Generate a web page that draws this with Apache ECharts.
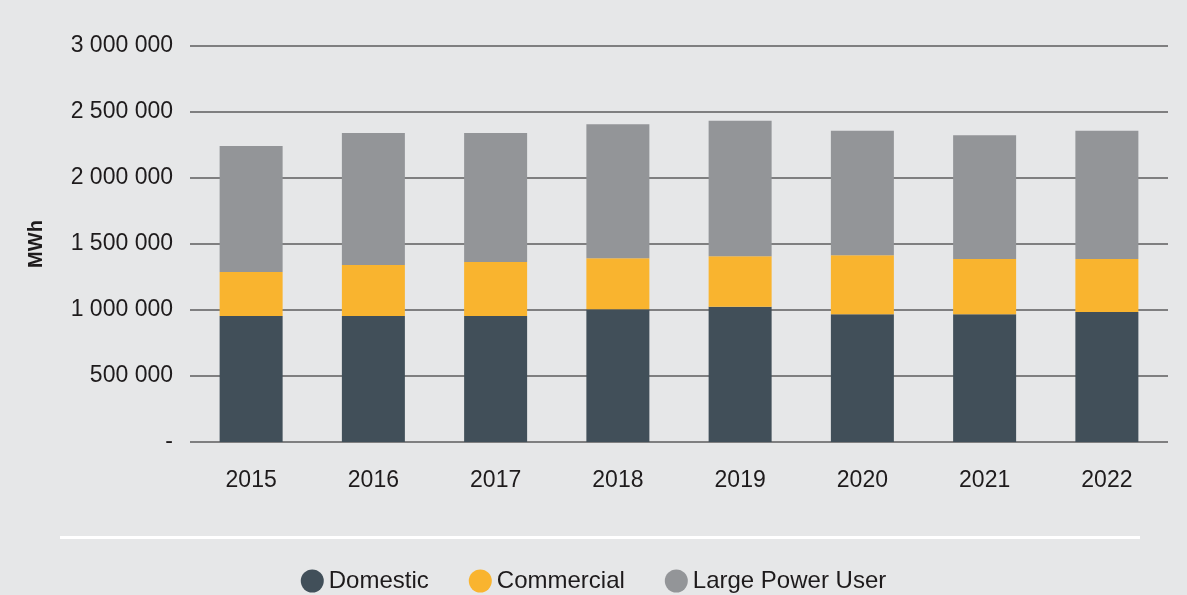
<!DOCTYPE html>
<html lang="en">

<head>
    <meta charset="UTF-8">
    <title>MWh by customer type</title>
    <script src="https://cdn.jsdelivr.net/npm/echarts@6/dist/echarts.min.js"></script>
    <style>
        html, body { margin: 0; padding: 0; background: #e6e7e8; }
        #main { width: 1187px; height: 595px; }
    </style>
</head>

<body>
    <div id="main"></div>
    <script>
        var years = ['2015', '2016', '2017', '2018', '2019', '2020', '2021', '2022'];
        var domestic = [955000, 955000, 955000, 1005000, 1025000, 967000, 967000, 985000];
        var commercial = [333000, 386000, 409000, 387000, 382000, 447000, 419000, 401000];
        var largePower = [954000, 1000000, 977000, 1015000, 1027000, 944000, 937000, 972000];
        var yTicks = [0, 500000, 1000000, 1500000, 2000000, 2500000, 3000000];

        var textColor = '#1e1b1c';
        var font = 'Liberation Sans, Arial, sans-serif';

        function fmt(v) {
            if (v === 0) return '-';
            return String(v).replace(/\B(?=(\d{3})+(?!\d))/g, ' ');
        }

        var mychart = echarts.init(document.getElementById('main'));

        var option = {
            backgroundColor: '#e6e7e8',
            animation: false,
            textStyle: { fontFamily: font, color: textColor },
            grid: { left: 190, right: 19, top: 46, bottom: 153 },
            legend: {
                data: ['Domestic', 'Commercial', 'Large Power User'],
                left: 'center',
                top: 564,
                icon: 'circle',
                itemWidth: 23,
                itemHeight: 23,
                itemGap: 40,
                textStyle: { fontSize: 24, color: textColor, fontFamily: font }
            },
            graphic: [{
                type: 'rect',
                shape: { x: 60, y: 536, width: 1080, height: 3 },
                style: { fill: '#ffffff' },
                silent: true
            }],
            xAxis: {
                type: 'category',
                data: years,
                axisLine: { show: false },
                axisTick: { show: false },
                axisLabel: { fontSize: 23, color: textColor, margin: 27 }
            },
            yAxis: {
                type: 'value',
                min: yTicks[0],
                max: yTicks[yTicks.length - 1],
                interval: 500000,
                name: 'MWh',
                nameLocation: 'middle',
                nameGap: 144,
                nameRotate: 90,
                nameTextStyle: { fontSize: 20, fontWeight: 'bold', color: textColor },
                axisLine: { show: false },
                axisTick: { show: false },
                axisLabel: { fontSize: 23, color: textColor, margin: 17, formatter: fmt },
                splitLine: { lineStyle: { color: '#5c5c5e', width: 1.5 } }
            },
            series: [
                { name: 'Domestic', type: 'bar', stack: 'total', data: domestic, barWidth: 63, itemStyle: { color: '#414f59' } },
                { name: 'Commercial', type: 'bar', stack: 'total', data: commercial, barWidth: 63, itemStyle: { color: '#f9b42f' } },
                { name: 'Large Power User', type: 'bar', stack: 'total', data: largePower, barWidth: 63, itemStyle: { color: '#939598' } }
            ]
        };
        mychart.setOption(option);
    </script>
</body>

</html>
